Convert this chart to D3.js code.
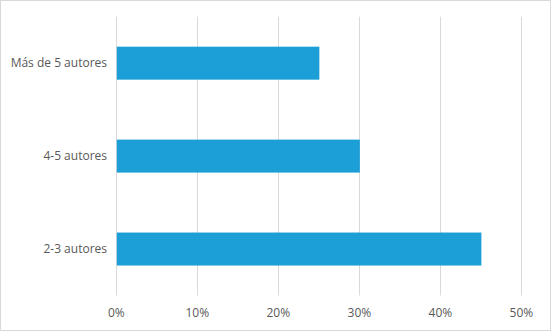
<!DOCTYPE html>
<html><head><meta charset="utf-8">
<script src="https://cdn.jsdelivr.net/npm/d3@7"></script>
<style>
html,body{margin:0;padding:0;background:#fff;}
svg{display:block;}
text{font-family:"Open Sans","Noto Sans",sans-serif;font-size:12px;fill:#595959;}
</style></head>
<body>
<script>
const categories = ["Más de 5 autores", "4-5 autores", "2-3 autores"];
const values = [25, 30, 45];
const ticks = [0, 10, 20, 30, 40, 50];

(function () {
const W = 551, H = 331;
const svg = d3.select("body").append("svg").attr("width", W).attr("height", H);
svg.append("rect").attr("x", 0.5).attr("y", 0.5).attr("width", W - 1).attr("height", H - 1)
  .attr("fill", "#fff").attr("stroke", "#d9d9d9");

const mLeft = 116.3, mRight = 521.4, mTop = 16.7, mBottom = 295.5;
const x = d3.scaleLinear().domain([0, 50]).range([mLeft, mRight]);
const y = d3.scaleBand().domain(categories).range([mTop, mBottom]).paddingInner(0.645).paddingOuter(0.3225);

svg.append("g").selectAll("line").data(ticks).join("line")
  .attr("x1", d => Math.round(x(d)) + 0.5).attr("x2", d => Math.round(x(d)) + 0.5)
  .attr("y1", mTop).attr("y2", mBottom)
  .attr("stroke", "#d9d9d9").attr("stroke-width", 1);

svg.append("g").selectAll("rect").data(values).join("rect")
  .attr("x", x(0) + 0.5)
  .attr("y", (d, i) => y(categories[i]))
  .attr("width", d => x(d) - x(0))
  .attr("height", y.bandwidth())
  .attr("fill", "#1c9fd6");

svg.append("g").selectAll("text").data(categories).join("text")
  .attr("x", 107).attr("y", d => y(d) + y.bandwidth() / 2)
  .attr("dy", "0.35em").attr("text-anchor", "end").text(d => d);

svg.append("g").selectAll("text").data(ticks).join("text")
  .attr("x", d => x(d)).attr("y", 313)
  .attr("dy", "0.35em").attr("text-anchor", "middle").text(d => d + "%");
})();
</script>
</body></html>
